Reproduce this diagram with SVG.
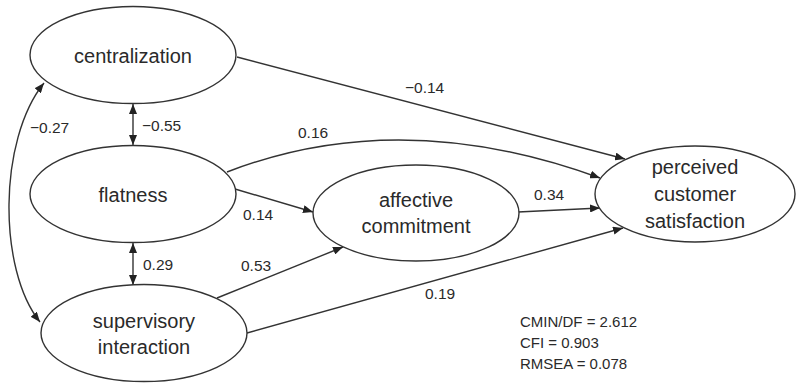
<svg xmlns="http://www.w3.org/2000/svg" width="796" height="384" viewBox="0 0 796 384">
<style>
.node ellipse{fill:#fff;stroke:#333;stroke-width:1.4}
.node text{font-family:"Liberation Sans",Arial,sans-serif;font-size:20px;fill:#2a2a2a;text-anchor:middle}
.conn path{fill:none;stroke:#333;stroke-width:1.4}
.lbl{font-family:"Liberation Sans",Arial,sans-serif;font-size:15.5px;fill:#2a2a2a}
.stat{font-family:"Liberation Sans",Arial,sans-serif;font-size:15px;fill:#2a2a2a}
</style>
<defs>
<marker id="ah" viewBox="0 0 10 8" refX="10" refY="4" markerWidth="10" markerHeight="8" markerUnits="userSpaceOnUse" orient="auto-start-reverse">
<path d="M0,0 L10,4 L0,8 Z" fill="#222"/>
</marker>
</defs>
<rect width="796" height="384" fill="#fff"/>
<g class="conn">
<path d="M237,57 L625,159" marker-end="url(#ah)"/>
<path d="M227,172 Q400,105 600,178" marker-end="url(#ah)"/>
<path d="M235,189 L313,212" marker-end="url(#ah)"/>
<path d="M217,298 L343,247" marker-end="url(#ah)"/>
<path d="M247,333 L623,228" marker-end="url(#ah)"/>
<path d="M518,212 L600,208" marker-end="url(#ah)"/>
<path d="M133,104 L133,145" marker-start="url(#ah)" marker-end="url(#ah)"/>
<path d="M133,243 L133,285" marker-start="url(#ah)" marker-end="url(#ah)"/>
<path d="M44,83 C-2,140 -2,270 40,322" marker-start="url(#ah)" marker-end="url(#ah)"/>
</g>
<g id="centralization" class="node">
<ellipse cx="133" cy="55" rx="103" ry="48.5"/>
<text x="133" y="63">centralization</text>
</g>
<g id="flatness" class="node">
<ellipse cx="133" cy="194" rx="103" ry="48.5"/>
<text x="133" y="202">flatness</text>
</g>
<g id="supervisory" class="node">
<ellipse cx="144" cy="333" rx="103" ry="48.5"/>
<text x="144" y="328">supervisory</text>
<text x="144" y="354">interaction</text>
</g>
<g id="affective" class="node">
<ellipse cx="416" cy="213" rx="103" ry="48"/>
<text x="416" y="207">affective</text>
<text x="416" y="233">commitment</text>
</g>
<g id="satisfaction" class="node">
<ellipse cx="695" cy="194" rx="100" ry="48"/>
<text x="695" y="174">perceived</text>
<text x="695" y="201">customer</text>
<text x="695" y="228">satisfaction</text>
</g>
<g id="labels">
<text class="lbl" x="405" y="93">−0.14</text>
<text class="lbl" x="298" y="138">0.16</text>
<text class="lbl" x="243" y="220">0.14</text>
<text class="lbl" x="534" y="200">0.34</text>
<text class="lbl" x="241" y="271">0.53</text>
<text class="lbl" x="425" y="299">0.19</text>
<text class="lbl" x="30" y="133">−0.27</text>
<text class="lbl" x="142" y="131">−0.55</text>
<text class="lbl" x="143" y="270">0.29</text>
<text class="stat" x="520" y="327">CMIN/DF = 2.612</text>
<text class="stat" x="520" y="348">CFI = 0.903</text>
<text class="stat" x="520" y="369">RMSEA = 0.078</text>
</g>
</svg>
